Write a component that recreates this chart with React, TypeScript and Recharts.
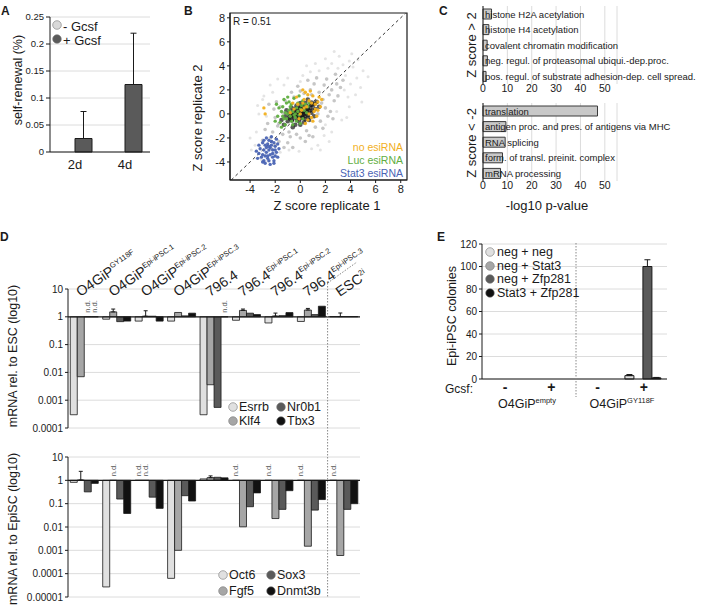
import React from 'react';
import {
  BarChart, Bar, XAxis, YAxis, CartesianGrid, ErrorBar, ScatterChart, Scatter,
  ReferenceLine, ReferenceArea, LabelList,
} from 'recharts';

const FONT = '"Liberation Sans", Arial, Helvetica, sans-serif';
const INK = '#1a1a1a';
const GRID = '#dcdcdc';

// ---------------- Panel A ----------------
const aCategories = ['2d', '4d'];
const aMinusGcsf = [0, 0];
const aPlusGcsf = [0.025, 0.125];
const aPlusGcsfErr = [0.05, 0.095];
const aTicks = [0, 0.05, 0.1, 0.15, 0.2, 0.25];

// ---------------- Panel B ----------------
const bCloudOuter: [number, number][] = [
  [3.6, 3.2], [-3.2, -2.8], [4.0, 2.5], [-3.5, -1.5], [3.0, 3.8], [-2.8, -3.4], [4.5, 3.0], [2.2, 3.8], [-2.0, -3.4], [3.8, 1.4],
  [-3.3, 0.0], [1.5, 3.6], [-1.6, -3.2], [4.2, 3.9], [2.5, 4.2], [3.3, -0.5], [-3.0, 1.2], [0.8, 3.5], [-0.9, -3.0], [4.8, 2.2],
  [3.9, 4.4], [1.9, -1.8], [-2.2, 1.8], [2.9, 0.2], [-2.7, -0.2], [5.0, 3.6], [0.2, 3.2], [-0.1, -3.1], [3.5, 2.0], [-3.6, -2.6],
  [2.0, 4.6], [4.4, 1.6], [-1.3, 2.4], [1.4, -2.6], [3.1, 4.8], [-2.4, 2.4], [2.5, -1.5], [4.6, 4.5], [-3.9, -3.0], [1.2, 4.2],
  [0.0, 2.7], [3.7, -0.3], [-1.8, 2.9], [2.3, -2.3], [5.4, 3.1], [-3.1, -3.8], [0.9, -2.9], [3.9, 0.6], [-2.9, 1.5], [4.1, 5.0],
  [-1.0, 3.0], [1.6, -3.0], [2.7, 5.2], [-3.4, 0.7], [4.9, 1.0], [0.5, 4.0], [-4.0, -2.0], [3.4, 4.1], [-2.6, -3.9], [2.0, -0.9],
];
const bCloudMid: [number, number][] = [
  [1.8, 1.2], [-1.8, -1.0], [2.0, 0.5], [-2.0, -0.3], [1.5, 1.8], [-1.4, -1.7], [0.8, 2.0], [-0.8, -1.9], [2.3, 1.6], [-2.2, -1.5],
  [1.6, -0.6], [-1.6, 0.6], [0.3, 1.7], [-0.3, -1.7], [2.5, 2.0], [-2.4, -2.0], [1.2, -1.1], [-1.2, 1.1], [2.2, -0.2], [-2.1, 0.4],
  [0.9, 1.6], [-0.9, -1.5], [1.9, 2.4], [-1.7, -2.3], [2.7, 1.1], [-2.6, -0.8], [0.5, -1.4], [-0.5, 1.4], [1.4, 0.0], [-1.4, 0.1],
  [2.9, 2.5], [-2.0, -2.6], [1.1, 2.5], [-1.0, -2.4], [3.0, 1.5], [-2.8, -1.3], [0.0, 1.9], [0.0, -2.0], [1.7, 0.9], [-1.7, -0.8],
  [2.4, 0.2], [-1.9, 1.0], [0.7, -1.8], [-0.7, 1.8], [3.2, 2.2], [-1.3, -2.8], [1.3, 3.0], [2.1, 2.9], [-2.3, -2.9], [2.6, -0.4],
  [-2.5, 0.8], [1.0, -1.9], [-0.2, 2.3], [0.4, -2.3], [3.4, 2.8], [-3.0, -2.2], [2.8, 3.3], [0.6, 2.8], [-0.6, -2.8], [1.8, -1.2],
];
const bCloudCore: [number, number][] = [
  [0, 0], [0.3, 0.2], [-0.3, -0.1], [0.5, 0.4], [-0.5, -0.3], [0.2, -0.3], [-0.2, 0.3], [0.8, 0.5], [-0.8, -0.4], [0.6, -0.1],
  [-0.6, 0.2], [1.0, 0.7], [-1.0, -0.6], [0.1, 0.6], [-0.1, -0.6], [0.9, 0.1], [-0.9, 0.0], [0.4, 0.9], [-0.4, -0.9], [1.2, 0.4],
  [-1.2, -0.2], [0.7, -0.5], [-0.7, 0.5], [0.0, 0.9], [0.0, -0.9], [1.3, 1.0], [-1.3, -0.9], [0.3, -0.7], [-0.3, 0.7], [1.5, 0.6],
  [-1.5, -0.5], [0.6, 1.2], [-0.6, -1.1], [1.1, -0.2], [-1.1, 0.3], [0.2, 0.3], [-0.2, -0.2], [0.45, 0.05], [-0.45, 0.1], [0.15, -0.1],
  [0.25, 0.45], [-0.35, 0.25], [0.55, 0.15], [-0.15, 0.05], [0.05, -0.35], [0.35, -0.2], [-0.55, -0.15], [0.7, 0.25], [-0.25, -0.45], [0.15, 0.15],
  [0.85, 0.75], [-0.75, -0.15], [0.5, 0.65], [-0.05, 0.45], [0.4, -0.45], [1.0, 0.3], [-0.9, -0.3], [0.2, 0.75], [-0.4, 0.45], [0.65, -0.3],
  [-0.65, -0.55], [1.15, 0.85], [0.05, 0.2], [-0.1, -0.25], [0.3, 0.0], [-0.3, 0.0], [0.6, 0.45], [-0.6, 0.0], [0.0, 0.55], [0.9, 0.95],
];
const bLucEsiRNA: [number, number][] = [
  [-0.6, 0.2], [-1.0, 0.0], [-0.3, 0.5], [-1.3, -0.4], [0.1, 0.7], [-0.8, 0.6], [-1.5, 0.2], [-0.4, -0.3], [0.3, 0.3], [-1.1, 0.9],
  [-0.7, -0.6], [-1.6, -0.7], [0.2, 1.1], [-0.2, 0.9], [-1.2, -0.9], [0.5, 0.1], [-0.9, 0.3], [-0.1, -0.1], [-1.4, 0.6], [-0.5, 1.3],
  [-1.8, -0.2], [0.4, 0.8], [-0.6, -0.9], [-1.0, 1.4], [-0.3, -0.6], [0.0, 0.4], [-1.7, 0.5], [-0.8, -0.2], [-1.2, 0.1], [0.6, 0.6],
  [-0.4, 0.0], [-1.5, -1.1], [-0.9, 1.0], [-0.1, 1.5], [0.2, -0.4], [-1.1, -0.4], [-2.0, -0.6], [-0.7, 0.8], [0.0, -0.8], [-1.3, 1.2],
  [-0.2, 0.2], [-1.9, 0.8], [0.7, 0.9], [-0.5, -0.1], [-1.4, -0.2],
];
const bNoEsiRNA: [number, number][] = [
  [0.5, 0.6], [0.9, 0.9], [0.1, 0.3], [1.2, 0.4], [0.3, 1.2], [0.7, 0.0], [1.4, 1.0], [-0.2, 0.8], [1.0, 1.5], [0.6, -0.5],
  [0.0, 0.0], [1.3, -0.2], [-0.5, 0.4], [0.8, 1.9], [1.6, 0.6], [0.4, -0.8], [-0.3, 1.4], [1.1, 0.2], [0.2, 0.9], [1.5, 1.4],
  [-0.8, 0.1], [0.9, -0.3], [0.6, 1.6], [1.2, 0.8], [-0.1, -0.4], [0.3, 0.5], [1.0, -0.6], [0.7, 1.1], [-0.6, 0.9], [1.4, 0.3],
  [0.4, 1.8], [-2.9, 0.5], [-2.8, 0.0], [0.2, 2.0], [1.7, 1.2],
];
const bStat3EsiRNA: [number, number][] = [
  [-2.5, -3.0], [-2.8, -2.6], [-2.2, -3.3], [-3.0, -3.4], [-2.0, -2.7], [-2.6, -3.7], [-3.2, -2.9], [-2.3, -2.3], [-1.9, -3.2], [-2.9, -3.9],
  [-2.4, -2.8], [-2.7, -3.2], [-2.1, -3.9], [-3.3, -3.3], [-2.5, -2.2], [-1.8, -2.5], [-2.8, -4.1], [-2.2, -3.0], [-3.0, -2.4], [-2.6, -3.5],
  [-2.0, -3.5], [-3.4, -3.7], [-2.4, -4.2], [-1.7, -2.9], [-2.9, -3.0], [-2.3, -2.6], [-2.7, -2.0], [-3.1, -3.6], [-2.1, -2.4], [-2.5, -3.9],
  [-1.9, -2.1], [-2.8, -3.5], [-3.3, -2.6], [-2.2, -3.6], [-2.6, -2.5], [-2.0, -3.0], [-3.0, -4.0], [-2.4, -3.4], [-1.8, -3.6], [-2.7, -2.8],
  [-3.5, -3.1], [-2.3, -1.9], [-2.9, -2.2], [-2.1, -4.1], [-2.5, -2.7],
];
const bTicks = [-4, -2, 0, 2, 4, 6, 8];
const bXDomain = [-5.6, 8.5];
const bYDomain = [-5.5, 8.4];
const bDiagonal = [-5.5, 8.4];

// ---------------- Panel C ----------------
const cUpTerms = [
  'histone H2A acetylation',
  'histone H4 acetylation',
  'covalent chromatin modification',
  'neg. regul. of proteasomal ubiqui.-dep.proc.',
  'pos. regul. of substrate adhesion-dep. cell spread.',
];
const cUpValues = [3.5, 2.4, 1.7, 1.8, 1.25];
const cDownTerms = [
  'translation',
  'antigen proc. and pres. of antigens via MHC',
  'RNA splicing',
  'form. of transl. preinit. complex',
  'mRNA processing',
];
const cDownValues = [47, 9.4, 9.1, 8.0, 7.2];
const cTicks = [0, 10, 20, 30, 40, 50];

// ---------------- Panel D ----------------
const dGroupMain = ['O4GiP', 'O4GiP', 'O4GiP', 'O4GiP', '796.4', '796.4', '796.4', '796.4', 'ESC'];
const dGroupSup = ['GY118F', 'Epi-iPSC.1', 'Epi-iPSC.2', 'Epi-iPSC.3', '', 'Epi-iPSC.1', 'Epi-iPSC.2', 'Epi-iPSC.3', '2i'];
// relative to ESC (null = n.d.)
const dEsrrb = [0.0003, 0.82, 0.7, 0.7, 0.0003, 0.75, 0.6, 0.68, 1.02];
const dKlf4 = [0.007, 1.5, 1.05, 1.43, 0.0036, 1.7, 1.06, 1.75, 1.02];
const dNr0b1 = [null, 0.67, 1.05, 1.08, 0.00055, 1.35, 1.1, 1.2, 1.02];
const dTbx3 = [null, 0.7, 0.7, 1.35, null, 1.2, 1.42, 2.4, 1.02];
const dKlf4ErrUp = [0, 0.4, 0.6, 0, 0, 0.2, 0.3, 0.25, 0.35];
// relative to EpiSC (null = n.d.)
const dOct6 = [0.82, 0.000027, null, 0.000063, 1.15, null, null, null, null];
const dFgf5 = [1.03, null, null, 0.001, 1.3, 0.0102, 0.023, 0.0015, 0.0006];
const dSox3 = [0.32, 0.158, 0.19, 0.22, 1.35, 0.074, 0.057, 0.053, 0.057];
const dDnmt3b = [0.74, 0.038, 0.063, 0.13, 1.28, 0.29, 0.36, 0.15, 0.1];
const dFgf5ErrUp = [1.4, 0, 0, 0, 0.25, 0, 0, 0, 0];
const dTopTicks = [0.0001, 0.001, 0.01, 0.1, 1, 10];
const dBotTicks = [0.00001, 0.0001, 0.001, 0.01, 0.1, 1, 10];

// ---------------- Panel E ----------------
const eCategories = ['empty-', 'empty+', 'GY118F-', 'GY118F+'];
const eGcsf = ['-', '+', '-', '+'];
const eNegNeg = [0, 0, 0, 3];
const eNegStat3 = [0, 0, 0, 0];
const eNegZfp281 = [0, 0, 0, 100];
const eStat3Zfp281 = [0, 0, 0, 1];
const eNegNegErr = [0, 0, 0, 1];
const eNegZfp281Err = [0, 0, 0, 6];
const eStat3Zfp281Err = [0, 0, 0, 0.4];
const eTicks = [0, 20, 40, 60, 80, 100, 120];

// ---------- colours ----------
const C1 = '#e0e0e0';
const C2 = '#a6a6a6';
const C3 = '#5a5a5a';
const C4 = '#111111';

// ---------- layout of panel D plot (px) ----------
const D_LEFT = 68;
const D_WIDTH = 292;

// ---------- helpers ----------
const pts = (arr: [number, number][]) => arr.map(([x, y]) => ({ x, y }));
const dotShape = (r: number, fill: string, op: number) => (p: any) =>
  <circle cx={p.cx} cy={p.cy} r={r} fill={fill} fillOpacity={op} />;
const shapeOuter = dotShape(1.5, '#a5a5a5', 0.3);
const shapeMid = dotShape(1.8, '#6a6a6a', 0.38);
const shapeCore = dotShape(2.3, '#151515', 0.7);
const shapeLuc = dotShape(1.7, '#5fae3f', 0.95);
const shapeNo = dotShape(1.7, '#f2b01e', 0.95);
const shapeStat3 = dotShape(1.7, '#4a64b4', 0.95);

const upErr = (v: number) => (v ? [0, v] : undefined);
const ND_EPS = 1.002;
const rangeOf = (k: string) => (d: any) => [1, d[k] == null ? ND_EPS : d[k]];
const rEsrrb = rangeOf('esrrb'), rKlf4 = rangeOf('klf4'), rNr0b1 = rangeOf('nr0b1'), rTbx3 = rangeOf('tbx3');
const rOct6 = rangeOf('oct6'), rFgf5 = rangeOf('fgf5'), rSox3 = rangeOf('sox3'), rDnmt3b = rangeOf('dnmt3b');
const nd = (v: number | null) => (v == null ? 'n.d.' : '');

const NdLabel = (props: any) => {
  if (props.value !== 'n.d.') return null;
  const vb = props.viewBox || {};
  const bx = vb.x ?? props.x;
  const bw = vb.width ?? props.width ?? 0;
  const by = vb.y ?? props.y;
  const bh = vb.height ?? props.height ?? 0;
  const x = bx + bw / 2;
  const y = Math.min(by, by + bh) - 4;
  return (
    <text x={x} y={y} transform={`rotate(-90, ${x}, ${y})`} fontSize={7.5} fill="#555"
      dominantBaseline="central" fontFamily={FONT}>n.d.</text>
  );
};

const GoLabel = (props: any) => {
  const vb = props.viewBox || props;
  const x = vb.x ?? props.x;
  const y = vb.y ?? props.y;
  const h = vb.height ?? props.height;
  return (
    <text x={x + 2} y={y + h / 2} dominantBaseline="central" fontSize={9.5} fill={INK} fontFamily={FONT}>
      {props.value}
    </text>
  );
};

const pos = (left: number, top: number): React.CSSProperties => ({ position: 'absolute', left, top });

function PanelA() {
  const data = aCategories.map((c, i) => ({
    cat: c, minus: aMinusGcsf[i], plus: aPlusGcsf[i], plusErr: upErr(aPlusGcsfErr[i]),
  }));
  return (
    <div style={pos(0, 0)}>
      <BarChart width={160} height={175} data={data} margin={{ top: 17, right: 10, bottom: 0, left: 0 }}
        barCategoryGap="16%" barGap={0}>
        <CartesianGrid vertical={false} stroke={GRID} />
        <XAxis dataKey="cat" tickLine={false} stroke={INK} tick={{ fontSize: 13, fill: INK }} height={23} />
        <YAxis domain={[0, 0.25]} ticks={aTicks} interval={0} tickSize={4} stroke={INK} tick={{ fontSize: 9.5, fill: INK }}
          width={50} tickFormatter={(v: number) => String(v)} />
        <Bar dataKey="minus" fill="#d9d9d9" stroke={INK} isAnimationActive={false} />
        <Bar dataKey="plus" fill="#5a5a5a" stroke={INK} isAnimationActive={false}>
          <ErrorBar dataKey="plusErr" width={3} stroke={INK} strokeWidth={1} />
        </Bar>
      </BarChart>
    </div>
  );
}

function PanelB() {
  return (
    <div style={pos(190, 0)}>
      <ScatterChart width={222} height={210} margin={{ top: 13, right: 5, bottom: 0, left: 0 }}>
        <XAxis type="number" dataKey="x" domain={bXDomain} ticks={bTicks} interval={0} allowDataOverflow tickSize={3}
          stroke={INK} tick={{ fontSize: 11, fill: INK }} height={30} />
        <YAxis type="number" dataKey="y" domain={bYDomain} ticks={bTicks} interval={0} allowDataOverflow tickSize={3}
          stroke={INK} tick={{ fontSize: 11, fill: INK }} width={40} />
        <Scatter data={pts(bCloudOuter)} shape={shapeOuter} isAnimationActive={false} />
        <Scatter data={pts(bCloudMid)} shape={shapeMid} isAnimationActive={false} />
        <Scatter data={pts(bCloudCore)} shape={shapeCore} isAnimationActive={false} />
        <Scatter data={pts(bLucEsiRNA)} shape={shapeLuc} isAnimationActive={false} />
        <Scatter data={pts(bNoEsiRNA)} shape={shapeNo} isAnimationActive={false} />
        <Scatter data={pts(bStat3EsiRNA)} shape={shapeStat3} isAnimationActive={false} />
        <ReferenceLine segment={[{ x: bDiagonal[0], y: bDiagonal[0] }, { x: bDiagonal[1], y: bDiagonal[1] }]}
          stroke="#333" strokeDasharray="3 3" ifOverflow="hidden" />
        <ReferenceArea x1={bXDomain[0]} x2={bXDomain[1]} y1={bYDomain[0]} y2={bYDomain[1]}
          fill="none" fillOpacity={0} stroke={INK} strokeWidth={1.2} ifOverflow="visible" />
      </ScatterChart>
    </div>
  );
}

function GoChart({ terms, values, top }: { terms: string[]; values: number[]; top: number }) {
  const data = terms.map((t, i) => ({ term: t, value: values[i] }));
  return (
    <div style={pos(440, top)}>
      <BarChart layout="vertical" width={269} height={100} data={data}
        margin={{ top: 6, right: 92, bottom: 0, left: 0 }}>
        <CartesianGrid horizontal={false} stroke={GRID} />
        <XAxis type="number" domain={[0, 55]} ticks={cTicks} interval={0} axisLine={false} tickLine={false} tickSize={0}
          tickMargin={1} tick={{ fontSize: 10.5, fill: INK }} height={16} />
        <YAxis type="category" dataKey="term" tick={false} tickLine={false} width={43} stroke={INK} />
        <Bar dataKey="value" fill="#c8c8c8" stroke="#3a3a3a" barSize={10} isAnimationActive={false}>
          <LabelList dataKey="term" content={GoLabel} />
        </Bar>
      </BarChart>
    </div>
  );
}

function PanelDTop() {
  const data = dGroupMain.map((g, i) => ({
    group: g + dGroupSup[i], esrrb: dEsrrb[i], klf4: dKlf4[i], nr0b1: dNr0b1[i], tbx3: dTbx3[i],
    ndEsrrb: nd(dEsrrb[i]), ndKlf4: nd(dKlf4[i]), ndNr0b1: nd(dNr0b1[i]), ndTbx3: nd(dTbx3[i]),
    klf4Err: upErr(dKlf4ErrUp[i]),
  }));
  return (
    <div style={pos(0, 280)}>
      <BarChart width={364} height={158} data={data} margin={{ top: 9, right: 4, bottom: 10, left: 0 }}
        barCategoryGap="7%" barGap={0}>
        <CartesianGrid vertical={false} stroke={GRID} />
        <XAxis dataKey="group" hide />
        <YAxis scale="log" domain={[0.0001, 10]} ticks={dTopTicks} interval={0} allowDataOverflow tickSize={3} stroke={INK}
          tick={{ fontSize: 10, fill: INK }} width={68} tickFormatter={(v: number) => String(v)} />
        <Bar dataKey={rEsrrb} fill={C1} stroke={INK} strokeWidth={0.8} isAnimationActive={false}>
          <LabelList dataKey="ndEsrrb" content={NdLabel} />
        </Bar>
        <Bar dataKey={rKlf4} fill={C2} stroke={INK} strokeWidth={0.8} isAnimationActive={false}>
          <LabelList dataKey="ndKlf4" content={NdLabel} />
          <ErrorBar dataKey="klf4Err" width={2} stroke={INK} strokeWidth={1} />
        </Bar>
        <Bar dataKey={rNr0b1} fill={C3} stroke={INK} strokeWidth={0.8} isAnimationActive={false}>
          <LabelList dataKey="ndNr0b1" content={NdLabel} />
        </Bar>
        <Bar dataKey={rTbx3} fill={C4} stroke={INK} strokeWidth={0.8} isAnimationActive={false}>
          <LabelList dataKey="ndTbx3" content={NdLabel} />
        </Bar>
        <ReferenceLine y={1} stroke={INK} strokeWidth={1.2} />
      </BarChart>
    </div>
  );
}

function PanelDBottom() {
  const data = dGroupMain.map((g, i) => ({
    group: g + dGroupSup[i], oct6: dOct6[i], fgf5: dFgf5[i], sox3: dSox3[i], dnmt3b: dDnmt3b[i],
    ndOct6: nd(dOct6[i]), ndFgf5: nd(dFgf5[i]), ndSox3: nd(dSox3[i]), ndDnmt3b: nd(dDnmt3b[i]),
    fgf5Err: upErr(dFgf5ErrUp[i]),
  }));
  return (
    <div style={pos(0, 448)}>
      <BarChart width={364} height={159} data={data} margin={{ top: 9, right: 4, bottom: 10, left: 0 }}
        barCategoryGap="7%" barGap={0}>
        <CartesianGrid vertical={false} stroke={GRID} />
        <XAxis dataKey="group" hide />
        <YAxis scale="log" domain={[0.00001, 10]} ticks={dBotTicks} interval={0} allowDataOverflow tickSize={3} stroke={INK}
          tick={{ fontSize: 10, fill: INK }} width={68} tickFormatter={(v: number) => String(v)} />
        <Bar dataKey={rOct6} fill={C1} stroke={INK} strokeWidth={0.8} isAnimationActive={false}>
          <LabelList dataKey="ndOct6" content={NdLabel} />
        </Bar>
        <Bar dataKey={rFgf5} fill={C2} stroke={INK} strokeWidth={0.8} isAnimationActive={false}>
          <LabelList dataKey="ndFgf5" content={NdLabel} />
          <ErrorBar dataKey="fgf5Err" width={2} stroke={INK} strokeWidth={1} />
        </Bar>
        <Bar dataKey={rSox3} fill={C3} stroke={INK} strokeWidth={0.8} isAnimationActive={false}>
          <LabelList dataKey="ndSox3" content={NdLabel} />
        </Bar>
        <Bar dataKey={rDnmt3b} fill={C4} stroke={INK} strokeWidth={0.8} isAnimationActive={false}>
          <LabelList dataKey="ndDnmt3b" content={NdLabel} />
        </Bar>
        <ReferenceLine y={1} stroke={INK} strokeWidth={1.2} />
      </BarChart>
    </div>
  );
}

function PanelE() {
  const data = eCategories.map((c, i) => ({
    cat: c, nn: eNegNeg[i], ns: eNegStat3[i], nz: eNegZfp281[i], sz: eStat3Zfp281[i],
    nnErr: upErr(eNegNegErr[i]), nzErr: upErr(eNegZfp281Err[i]), szErr: upErr(eStat3Zfp281Err[i]),
  }));
  return (
    <div style={pos(440, 235)}>
      <BarChart width={232} height={164} data={data} margin={{ top: 9, right: 5, bottom: 0, left: 0 }}
        barCategoryGap="9%" barGap={0}>
        <CartesianGrid vertical={false} stroke={GRID} />
        <XAxis dataKey="cat" tickLine={false} tickSize={0} tickMargin={3} stroke={INK} height={20} interval={0}
          tick={{ fontSize: 14, fontWeight: 'bold', fill: INK }}
          tickFormatter={(_v: string, i: number) => eGcsf[i]} />
        <YAxis domain={[0, 120]} ticks={eTicks} interval={0} tickSize={3} stroke={INK} tick={{ fontSize: 10, fill: INK }} width={42} />
        <Bar dataKey="nn" fill={C1} stroke={INK} isAnimationActive={false}>
          <ErrorBar dataKey="nnErr" width={3} stroke={INK} strokeWidth={1} />
        </Bar>
        <Bar dataKey="ns" fill={C2} stroke={INK} isAnimationActive={false} />
        <Bar dataKey="nz" fill={C3} stroke={INK} isAnimationActive={false}>
          <ErrorBar dataKey="nzErr" width={3} stroke={INK} strokeWidth={1} />
        </Bar>
        <Bar dataKey="sz" fill={C4} stroke={INK} isAnimationActive={false}>
          <ErrorBar dataKey="szErr" width={3} stroke={INK} strokeWidth={1} />
        </Bar>
      </BarChart>
    </div>
  );
}

const Dot = ({ x, y, fill }: { x: number; y: number; fill: string }) => (
  <circle cx={x} cy={y} r={4.3} fill={fill} stroke="#777" strokeWidth={0.6} />
);

function Overlay() {
  const t = { fontFamily: FONT, fill: INK } as any;
  const rot = (x: number, y: number) => `translate(${x},${y}) rotate(-90)`;
  const band = D_WIDTH / dGroupMain.length;
  return (
    <svg width={709} height={616} style={{ position: 'absolute', left: 0, top: 0, pointerEvents: 'none' }}>
      {/* panel letters */}
      <text x={1} y={15} fontSize={12} fontWeight="bold" {...t}>A</text>
      <text x={184} y={15} fontSize={12} fontWeight="bold" {...t}>B</text>
      <text x={439} y={15} fontSize={12} fontWeight="bold" {...t}>C</text>
      <text x={0} y={241} fontSize={12} fontWeight="bold" {...t}>D</text>
      <text x={437} y={241} fontSize={12} fontWeight="bold" {...t}>E</text>

      {/* A */}
      <text transform={rot(18, 80)} textAnchor="middle" dominantBaseline="central" fontSize={12.5} {...t}>self-renewal (%)</text>
      <Dot x={57} y={25} fill="#d9d9d9" />
      <Dot x={57} y={39} fill="#5a5a5a" />
      <text x={63} y={26} dominantBaseline="central" fontSize={13} {...t}>- Gcsf</text>
      <text x={63} y={40} dominantBaseline="central" fontSize={13} {...t}>+ Gcsf</text>

      {/* B */}
      <text x={233} y={21} dominantBaseline="central" fontSize={10} {...t}>R = 0.51</text>
      <text x={403} y={147} textAnchor="end" dominantBaseline="central" fontSize={10.5} fontFamily={FONT} fill="#f2b01e">no esiRNA</text>
      <text x={403} y={160} textAnchor="end" dominantBaseline="central" fontSize={10.5} fontFamily={FONT} fill="#5fae3f">Luc esiRNA</text>
      <text x={403} y={173} textAnchor="end" dominantBaseline="central" fontSize={10.5} fontFamily={FONT} fill="#4a64b4">Stat3 esiRNA</text>
      <text transform={rot(197, 118)} textAnchor="middle" dominantBaseline="central" fontSize={13} {...t}>Z score replicate 2</text>
      <text x={327} y={205} textAnchor="middle" dominantBaseline="central" fontSize={13} {...t}>Z score replicate 1</text>

      {/* C */}
      <text transform={rot(471, 45)} textAnchor="middle" dominantBaseline="central" fontSize={13} {...t}>Z score &gt; 2</text>
      <text transform={rot(471, 143)} textAnchor="middle" dominantBaseline="central" fontSize={13} {...t}>Z score &lt; -2</text>
      <text x={547} y={205} textAnchor="middle" dominantBaseline="central" fontSize={13} {...t}>-log10 p-value</text>

      {/* D */}
      {dGroupMain.map((g, i) => (
        <text key={i} transform={`translate(${D_LEFT + band * (i + 0.5) - 4},297) rotate(-34)`} fontSize={14} {...t}>
          {g}
          {dGroupSup[i] ? <tspan fontSize={7.5} dy={-6}>{dGroupSup[i]}</tspan> : null}
        </text>
      ))}
      <text transform={rot(13, 356)} textAnchor="middle" dominantBaseline="central" fontSize={12.5} {...t}>mRNA rel. to ESC (log10)</text>
      <text transform={rot(13, 529)} textAnchor="middle" dominantBaseline="central" fontSize={12.5} {...t}>mRNA rel. to EpiSC (log10)</text>
      <line x1={327.6} y1={283} x2={327.6} y2={597} stroke="#888" strokeDasharray="1.5 1.5" />
      <line x1={327.6} y1={283} x2={357} y2={262} stroke="#888" strokeDasharray="1.5 1.5" />
      <Dot x={233} y={407} fill={C1} />
      <Dot x={233} y={421} fill={C2} />
      <Dot x={281} y={407} fill={C3} />
      <Dot x={281} y={421} fill={C4} />
      <text x={239} y={407} dominantBaseline="central" fontSize={12.5} {...t}>Esrrb</text>
      <text x={239} y={421} dominantBaseline="central" fontSize={12.5} {...t}>Klf4</text>
      <text x={287} y={407} dominantBaseline="central" fontSize={12.5} {...t}>Nr0b1</text>
      <text x={287} y={421} dominantBaseline="central" fontSize={12.5} {...t}>Tbx3</text>
      <Dot x={223} y={575} fill={C1} />
      <Dot x={223} y={591} fill={C2} />
      <Dot x={271} y={575} fill={C3} />
      <Dot x={271} y={591} fill={C4} />
      <text x={229} y={575} dominantBaseline="central" fontSize={12.5} {...t}>Oct6</text>
      <text x={229} y={591} dominantBaseline="central" fontSize={12.5} {...t}>Fgf5</text>
      <text x={277} y={575} dominantBaseline="central" fontSize={12.5} {...t}>Sox3</text>
      <text x={277} y={591} dominantBaseline="central" fontSize={12.5} {...t}>Dnmt3b</text>

      {/* E */}
      <text transform={rot(452, 316)} textAnchor="middle" dominantBaseline="central" fontSize={12.5} {...t}>Epi-iPSC colonies</text>
      <line x1={576} y1={243} x2={576} y2={397} stroke="#888" strokeDasharray="1.5 1.5" />
      <Dot x={490} y={252} fill={C1} />
      <Dot x={490} y={266} fill={C2} />
      <Dot x={490} y={279} fill={C3} />
      <Dot x={490} y={293} fill={C4} />
      <text x={497} y={252} dominantBaseline="central" fontSize={12.5} {...t}>neg + neg</text>
      <text x={497} y={266} dominantBaseline="central" fontSize={12.5} {...t}>neg + Stat3</text>
      <text x={497} y={279} dominantBaseline="central" fontSize={12.5} {...t}>neg + Zfp281</text>
      <text x={497} y={293} dominantBaseline="central" fontSize={12.5} {...t}>Stat3 + Zfp281</text>
      <text x={445} y={389} dominantBaseline="central" fontSize={12} {...t}>Gcsf:</text>
      <text x={527} y={408} textAnchor="middle" fontSize={12.5} {...t}>O4GiP<tspan fontSize={7.5} dy={-5}>empty</tspan></text>
      <text x={622} y={408} textAnchor="middle" fontSize={12.5} {...t}>O4GiP<tspan fontSize={7.5} dy={-5}>GY118F</tspan></text>
    </svg>
  );
}

export default function App() {
  return (
    <div style={{ position: 'absolute', left: 0, top: 0, width: 709, height: 616, background: '#fff', fontFamily: FONT, overflow: 'hidden' }}>
      <PanelA />
      <PanelB />
      <GoChart terms={cUpTerms} values={cUpValues} top={0} />
      <GoChart terms={cDownTerms} values={cDownValues} top={97} />
      <PanelDTop />
      <PanelDBottom />
      <PanelE />
      <Overlay />
    </div>
  );
}
